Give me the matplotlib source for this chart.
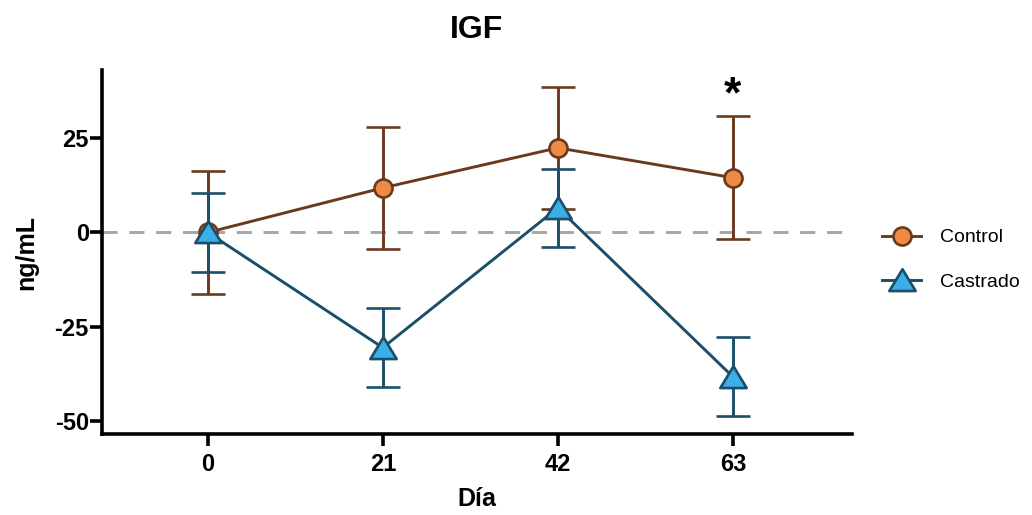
import matplotlib
matplotlib.use("Agg")
import matplotlib.pyplot as plt
from matplotlib.path import Path
import numpy as np

plt.rcParams['font.family'] = ['Liberation Sans', 'DejaVu Sans']
plt.rcParams['axes.unicode_minus'] = False

days = [0, 21, 42, 63]
control_mean = [0.0, 11.8, 22.4, 14.5]
control_err = [16.2, 16.2, 16.2, 16.2]
castrado_mean = [0.0, -30.5, 6.5, -38.2]
castrado_err = [10.5, 10.5, 10.3, 10.5]
yticks = [-50, -25, 0, 25]
series_names = ["Control", "Castrado"]

c_line = "#6B3A1E"
c_fill = "#EF8A45"
k_line = "#1B4E68"
k_fill = "#3DAEE8"

fig = plt.figure(figsize=(10.32, 5.15), dpi=100)
ax = fig.add_axes([0.0988, 0.157, 0.7268, 0.707])

tri = Path([(-1, -0.8), (1, -0.8), (0, 0.85), (-1, -0.8)],
           [Path.MOVETO, Path.LINETO, Path.LINETO, Path.CLOSEPOLY])

ax.axhline(0, color="#A6A6A6", lw=2.1, dashes=(5.2, 4.0), zorder=1)

ax.errorbar(days, control_mean, yerr=control_err, color=c_line, lw=2.1,
            capsize=12.5, capthick=2.1, elinewidth=2.1, marker='o', ms=13,
            mfc=c_fill, mec=c_line, mew=1.9, label=series_names[0], zorder=3)
ax.errorbar(days, castrado_mean, yerr=castrado_err, color=k_line, lw=2.1,
            capsize=12.5, capthick=2.1, elinewidth=2.1, marker=tri, ms=19,
            mfc=k_fill, mec=k_line, mew=1.9, label=series_names[1], zorder=4)

ax.text(63, 36.2, "*", ha="center", va="center", fontsize=32, fontweight="bold")

ax.set_xlim(-12.7, 77.3)
ax.set_ylim(-53.4, 43)
ax.set_xticks(days)
ax.set_yticks(yticks)
ax.set_xticklabels([str(d) for d in days])

for s in ["top", "right"]:
    ax.spines[s].set_visible(False)
for s in ["left", "bottom"]:
    ax.spines[s].set_linewidth(2.6)
ax.tick_params(axis='both', width=2.6, length=8.5, labelsize=17)
ax.tick_params(axis='x', pad=5)
ax.tick_params(axis='y', pad=1)
for lab in ax.get_xticklabels() + ax.get_yticklabels():
    lab.set_fontweight("bold")

ax.set_xlabel("Día", fontsize=18, fontweight="bold", labelpad=8)
ax.set_ylabel("ng/mL", fontsize=18, fontweight="bold", labelpad=12)
ax.set_title("IGF", fontsize=23, fontweight="bold", pad=23)

h, l = ax.get_legend_handles_labels()
h = [hh[0] for hh in h]
leg = fig.legend(h, l, loc="center left", bbox_to_anchor=(0.838, 0.495),
                 frameon=False, fontsize=14, handlelength=2.0,
                 labelspacing=1.4, handletextpad=0.95)

fig.savefig("out.png", dpi=100)
